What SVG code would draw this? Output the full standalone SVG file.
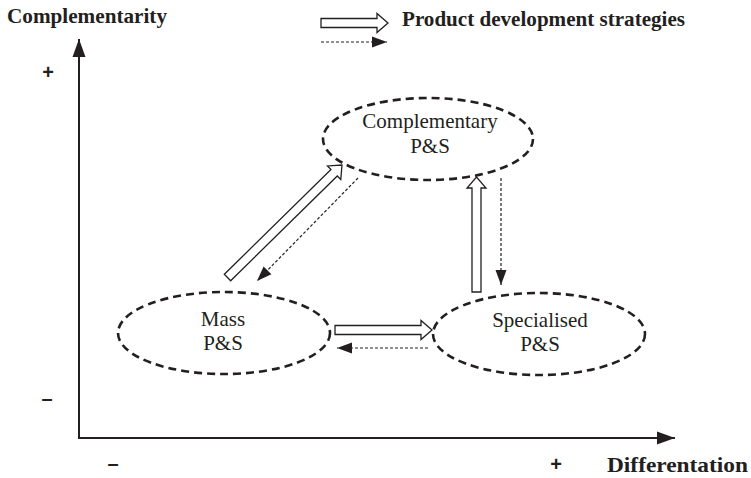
<svg xmlns="http://www.w3.org/2000/svg" width="751" height="478" viewBox="0 0 751 478">
<style>
.t{font-family:"Liberation Serif","Times New Roman",serif;fill:#231f20}
.b{font-weight:bold}
.n{font-size:21px;text-anchor:middle}
.s{font-family:"Liberation Sans",Arial,sans-serif;font-weight:bold;font-size:20px;fill:#231f20;text-anchor:middle}
.ell{fill:none;stroke:#231f20;stroke-width:2.6;stroke-dasharray:8,5}
.hol{fill:#fff;stroke:#231f20;stroke-width:1.3;stroke-linejoin:miter}
.dsh{fill:none;stroke:#231f20;stroke-width:1.2;stroke-dasharray:3,2}
.ax{fill:none;stroke:#231f20;stroke-width:2}
</style>
<defs>
<marker id="dh" markerUnits="userSpaceOnUse" markerWidth="16" markerHeight="12" refX="15" refY="6" orient="auto" viewBox="0 0 16 12">
<path d="M0,0.5 L15,6 L0,11.5 Z" fill="#231f20"/>
</marker>
<marker id="axh" markerUnits="userSpaceOnUse" markerWidth="19" markerHeight="14" refX="18" refY="7" orient="auto" viewBox="0 0 19 14">
<path d="M0,0.5 L18,7 L0,13.5 Z" fill="#231f20"/>
</marker>
</defs>

<g id="axes">
<path class="ax" d="M79,438 V39" marker-end="url(#axh)"/>
<path class="ax" d="M78,438 H675" marker-end="url(#axh)"/>
<text class="t b" x="7" y="23" font-size="21" textLength="160" lengthAdjust="spacingAndGlyphs">Complementarity</text>
<text class="t b" x="607" y="472" font-size="22" textLength="141" lengthAdjust="spacingAndGlyphs">Differentation</text>
<text class="s" x="48" y="79">+</text>
<text class="s" x="47" y="405">–</text>
<text class="s" x="113" y="470">–</text>
<text class="s" x="556" y="471">+</text>
</g>

<g id="legend">
<path class="hol" d="M321,18.5 H377 V13.5 L388,23 L377,32.5 V27.5 H321 Z"/>
<path class="dsh" d="M321,42 H387" marker-end="url(#dh)"/>
<text class="t b" x="402" y="26" font-size="21" textLength="283" lengthAdjust="spacingAndGlyphs">Product development strategies</text>
</g>

<g id="node-complementary">
<ellipse class="ell" cx="428" cy="139" rx="105" ry="41"/>
<text class="t n" x="430" y="128">Complementary</text>
<text class="t n" x="430" y="153">P&amp;S</text>
</g>

<g id="node-mass">
<ellipse class="ell" cx="224" cy="333" rx="106" ry="41"/>
<text class="t n" x="223" y="326">Mass</text>
<text class="t n" x="223" y="350">P&amp;S</text>
</g>

<g id="node-specialised">
<ellipse class="ell" cx="539" cy="334" rx="106" ry="41"/>
<text class="t n" x="540" y="327">Specialised</text>
<text class="t n" x="540" y="351">P&amp;S</text>
</g>

<g id="connectors">
<path class="hol" d="M335,325.5 H421 V320.5 L432,330 L421,339.5 V334.5 H335 Z"/>
<path class="hol" transform="translate(476.5,292) rotate(-90)" d="M0,-4.5 H104 V-9.5 L115,0 L104,9.5 V4.5 H0 Z"/>
<path class="hol" transform="translate(227.5,277.5) rotate(-44.5)" d="M0,-4.5 H149.5 V-9.5 L160.5,0 L149.5,9.5 V4.5 H0 Z"/>
<path class="dsh" d="M358,178 L257,281" marker-end="url(#dh)"/>
<path class="dsh" d="M501,178 V285" marker-end="url(#dh)"/>
<path class="dsh" d="M428,348 H337" marker-end="url(#dh)"/>
</g>
</svg>
